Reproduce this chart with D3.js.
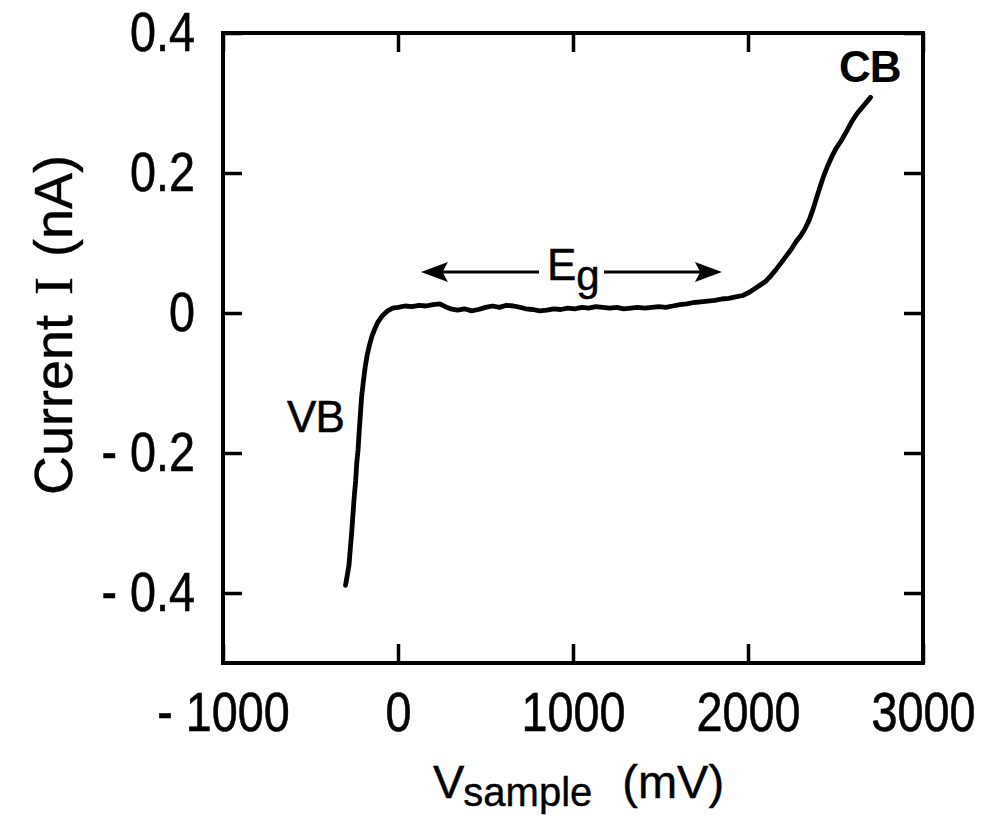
<!DOCTYPE html>
<html>
<head>
<meta charset="utf-8">
<script src="https://cdn.jsdelivr.net/npm/d3@7"></script>
<style>
  html, body { margin: 0; padding: 0; background: #fff; }
  svg { display: block; }
  text { font-family: "Liberation Sans", Arial, Helvetica, sans-serif; fill: #000; }
  .serif { font-family: "Liberation Serif", "Times New Roman", serif; }
</style>
</head>
<body>
<svg id="chart" width="986" height="822"></svg>
<script>
// ---- data ----
const voltage = [-300, -290, -280, -272, -265, -258, -250, -242, -236, -228, -222, -215, -208, -198, -188, -176, -163, -150, -135, -115, -90, -60, -30, 0, 40, 80, 120, 160, 200, 240, 270, 300, 340, 380, 420, 460, 500, 540, 580, 620, 660, 700, 730, 770, 810, 850, 890, 930, 970, 1010, 1050, 1090, 1130, 1170, 1210, 1250, 1290, 1330, 1370, 1410, 1450, 1490, 1530, 1570, 1610, 1650, 1690, 1730, 1770, 1810, 1850, 1890, 1930, 1970, 2010, 2040, 2070, 2100, 2130, 2160, 2190, 2220, 2250, 2275, 2300, 2325, 2350, 2370, 2390, 2410, 2430, 2455, 2480, 2505, 2530, 2560, 2590, 2620, 2650, 2680, 2700];
const current = [-0.389, -0.375, -0.360, -0.335, -0.315, -0.290, -0.262, -0.240, -0.215, -0.195, -0.170, -0.145, -0.120, -0.098, -0.078, -0.060, -0.046, -0.034, -0.024, -0.013, -0.004, 0.003, 0.007, 0.008, 0.010, 0.009, 0.011, 0.010, 0.012, 0.013, 0.009, 0.006, 0.004, 0.006, 0.003, 0.005, 0.008, 0.010, 0.008, 0.011, 0.010, 0.008, 0.006, 0.005, 0.003, 0.004, 0.006, 0.005, 0.007, 0.006, 0.008, 0.007, 0.009, 0.008, 0.007, 0.008, 0.006, 0.007, 0.008, 0.007, 0.008, 0.009, 0.008, 0.010, 0.012, 0.013, 0.015, 0.016, 0.017, 0.018, 0.020, 0.021, 0.023, 0.025, 0.030, 0.035, 0.040, 0.045, 0.053, 0.062, 0.072, 0.082, 0.092, 0.102, 0.110, 0.120, 0.133, 0.147, 0.163, 0.179, 0.194, 0.210, 0.224, 0.236, 0.245, 0.258, 0.272, 0.284, 0.293, 0.302, 0.308];
const xTicks = [-1000, 0, 1000, 2000, 3000];
const yTicks = [-0.4, -0.2, 0, 0.2, 0.4];
const xDomain = [-1000, 3000];
const yDomain = [-0.5, 0.4];
const yTitle = ["Current", "I", "(nA)"];
const xTitle = ["V", "sample", "(mV)"];
const bandLabels = ["VB", "CB", "E", "g"];

// ---- layout ----
const svg = d3.select("#chart");
const L = 223, R = 923, T = 33, B = 663;
const x = d3.scaleLinear().domain(xDomain).range([L, R]);
const y = d3.scaleLinear().domain(yDomain).range([B, T]);
const fmt = d => d === 0 ? "0" : (d < 0 ? "- " + Math.abs(d).toFixed(1) : d.toFixed(1));
const SX = 0.85;

function styleAxis(g) {
  g.select(".domain").remove();
  g.selectAll(".tick line").attr("stroke", "#000").attr("stroke-width", 3.5);
}
function styleLabels(g) {
  g.selectAll(".tick text")
    .attr("font-size", 55)
    .attr("stroke", "#000").attr("stroke-width", 0.6)
    .attr("font-family", "Liberation Sans, Arial, sans-serif")
    .each(function () {
      const t = d3.select(this);
      const x0 = +t.attr("x") || 0;
      t.attr("x", x0 / SX).attr("transform", `scale(${SX},1)`);
    });
}

// bottom axis
svg.append("g").attr("transform", `translate(0,${B})`)
  .call(d3.axisBottom(x).tickValues(xTicks).tickSizeInner(-19).tickSizeOuter(0).tickPadding(29)
    .tickFormat(d => d < 0 ? "- " + Math.abs(d) : String(d)))
  .call(styleAxis)
  .call(styleLabels);
// top axis ticks
svg.append("g").attr("transform", `translate(0,${T})`)
  .call(d3.axisTop(x).tickValues(xTicks).tickSizeInner(-19).tickSizeOuter(0).tickFormat(""))
  .call(styleAxis);
// left axis
svg.append("g").attr("transform", `translate(${L},0)`)
  .call(d3.axisLeft(y).tickValues(yTicks).tickSizeInner(-19).tickSizeOuter(0).tickPadding(28).tickFormat(fmt))
  .call(styleAxis)
  .call(styleLabels);
// right axis ticks
svg.append("g").attr("transform", `translate(${R},0)`)
  .call(d3.axisRight(y).tickValues(yTicks).tickSizeInner(-19).tickSizeOuter(0).tickFormat(""))
  .call(styleAxis);

// frame
svg.append("rect").attr("x", L).attr("y", T).attr("width", R - L).attr("height", B - T)
  .attr("fill", "none").attr("stroke", "#000").attr("stroke-width", 4);

// curve
const pts = voltage.map((v, i) => [v, current[i]]);
svg.append("path").datum(pts)
  .attr("d", d3.line().x(d => x(d[0])).y(d => y(d[1])).curve(d3.curveLinear))
  .attr("fill", "none").attr("stroke", "#000").attr("stroke-width", 4.8)
  .attr("stroke-linejoin", "round").attr("stroke-linecap", "round");

// band labels
svg.append("text").attr("x", x(-310)).attr("y", y(-0.170)).attr("text-anchor", "end")
  .attr("font-size", 44).attr("letter-spacing", -1).attr("stroke", "#000").attr("stroke-width", 0.5)
  .text(bandLabels[0]);
svg.append("text").attr("x", x(2520)).attr("y", y(0.330))
  .attr("font-size", 44).attr("font-weight", "bold").attr("letter-spacing", -1)
  .text(bandLabels[1]);

// Eg arrow
const ay = y(0.0586);
const arrowHead = (tip, dir) => {
  const len = 27, hw = 10;
  return `M${tip},${ay} L${tip + dir * len},${ay - hw} L${tip + dir * len * 0.8},${ay} L${tip + dir * len},${ay + hw} Z`;
};
svg.append("line").attr("x1", x(131) + 10).attr("x2", x(806)).attr("y1", ay).attr("y2", ay)
  .attr("stroke", "#000").attr("stroke-width", 3);
svg.append("line").attr("x1", x(1177)).attr("x2", x(1851) - 10).attr("y1", ay).attr("y2", ay)
  .attr("stroke", "#000").attr("stroke-width", 3);
svg.append("path").attr("d", arrowHead(x(131), 1)).attr("fill", "#000");
svg.append("path").attr("d", arrowHead(x(1851), -1)).attr("fill", "#000");
const eg = svg.append("text").attr("x", x(851)).attr("y", y(0.047))
  .attr("font-size", 44).attr("stroke", "#000").attr("stroke-width", 0.5);
eg.append("tspan").text(bandLabels[2]);
eg.append("tspan").attr("font-size", 42).attr("dy", 10).text(bandLabels[3]);

// axis titles
const yt = svg.append("text").attr("transform", `translate(72,${325}) rotate(-90)`)
  .attr("text-anchor", "middle").attr("font-size", 54).attr("stroke", "#000").attr("stroke-width", 0.4);
yt.append("tspan").text(yTitle[0]);
yt.append("tspan").attr("class", "serif").attr("dx", 20).text(yTitle[1]);
yt.append("tspan").attr("dx", 20).text(yTitle[2]);

const xt = svg.append("text").attr("x", 433).attr("y", 798).attr("font-size", 47)
  .attr("stroke", "#000").attr("stroke-width", 0.4);
xt.append("tspan").text(xTitle[0]);
xt.append("tspan").attr("font-size", 40).attr("dy", 8).attr("dx", -1).text(xTitle[1]);
xt.append("tspan").attr("dy", -8).attr("dx", 30).text(xTitle[2]);
</script>
</body>
</html>
